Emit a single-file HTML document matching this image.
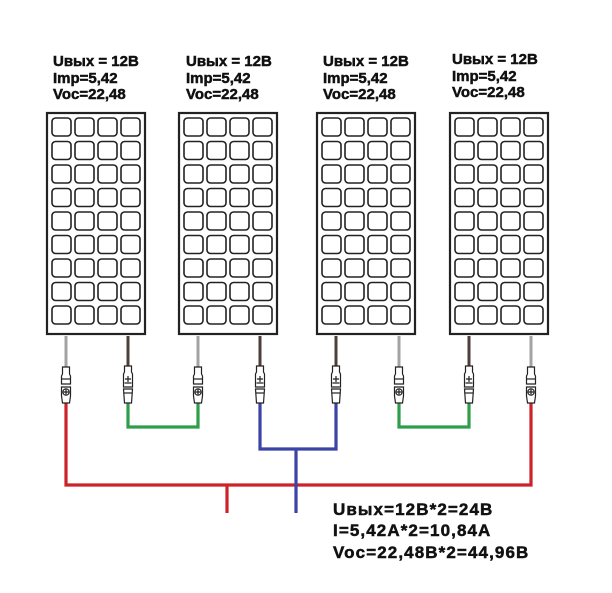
<!DOCTYPE html>
<html>
<head>
<meta charset="utf-8">
<style>
html,body{margin:0;padding:0;background:#fff;}
svg{display:block;}
.t{font-family:"Liberation Sans",Arial,sans-serif;font-weight:bold;fill:#111;stroke:#111;stroke-width:0.5;}
</style>
</head>
<body>
<svg width="612" height="593" viewBox="0 0 612 593" xmlns="http://www.w3.org/2000/svg">
<defs>
  <g id="cells" fill="none" stroke="#222" stroke-width="1.6">
    <rect x="6" y="6" width="19" height="18" rx="3.5"/>
    <rect x="29" y="6" width="19" height="18" rx="3.5"/>
    <rect x="52" y="6" width="19" height="18" rx="3.5"/>
    <rect x="75" y="6" width="19" height="18" rx="3.5"/>
  </g>
  <g id="panel">
    <rect x="1" y="1" width="98" height="221" fill="#fff" stroke="#222" stroke-width="2.2"/>
    <use href="#cells" y="0"/>
    <use href="#cells" y="23.5"/>
    <use href="#cells" y="47"/>
    <use href="#cells" y="70.5"/>
    <use href="#cells" y="94"/>
    <use href="#cells" y="117.5"/>
    <use href="#cells" y="141"/>
    <use href="#cells" y="164.5"/>
    <use href="#cells" y="188"/>
  </g>
  <g id="connA" fill="#fff" stroke="#222" stroke-width="1.2">
    <path d="M-3.5,367 H3.5 V374 L4.5,376 V384 H-4.5 V376 L-3.5,374 Z"/>
    <path d="M-4.5,379 H4.5" fill="none"/>
    <path d="M-4.5,387 H4.5 V396 L3.5,403 H-3.5 L-4.5,396 Z"/>
    <circle cx="0" cy="392" r="3.2"/>
    <path d="M-2.5,392 H2.5 M0,389.5 V394.5" fill="none"/>
  </g>
  <g id="connB" fill="#fff" stroke="#222" stroke-width="1.2">
    <path d="M-3.5,366 H3.5 V372 L4.5,374 V387 H-4.5 V374 L-3.5,372 Z"/>
    <path d="M-3,379 H3 M0,376 V382 M-3.5,383 H3.5" fill="none"/>
    <path d="M-4.5,389 H4.5 L3.5,403 H-3.5 Z"/>
    <path d="M-4.5,393 H4.5" fill="none"/>
  </g>
</defs>

<g class="t" font-size="15">
  <text x="53" y="66">Uвых = 12В</text>
  <text x="53" y="83">Imp=5,42</text>
  <text x="53" y="99">Voc=22,48</text>

  <text x="186" y="66">Uвых = 12В</text>
  <text x="186" y="83">Imp=5,42</text>
  <text x="186" y="99">Voc=22,48</text>

  <text x="323" y="66">Uвых = 12В</text>
  <text x="323" y="83">Imp=5,42</text>
  <text x="323" y="99">Voc=22,48</text>

  <text x="452" y="64">Uвых = 12В</text>
  <text x="452" y="81">Imp=5,42</text>
  <text x="452" y="97">Voc=22,48</text>
</g>

<use href="#panel" x="46" y="112"/>
<use href="#panel" x="178" y="112"/>
<use href="#panel" x="316" y="112"/>
<use href="#panel" x="449" y="112"/>

<g stroke-width="3" fill="none">
  <path d="M66,336 V367" stroke="#a3a3a3"/>
  <path d="M128,336 V366" stroke="#4e3f3c"/>
  <path d="M198,336 V367" stroke="#a3a3a3"/>
  <path d="M260,336 V366" stroke="#4e3f3c"/>
  <path d="M336,336 V366" stroke="#4e3f3c"/>
  <path d="M399,336 V367" stroke="#a3a3a3"/>
  <path d="M469,336 V366" stroke="#4e3f3c"/>
  <path d="M531,336 V367" stroke="#a3a3a3"/>
</g>

<g stroke-width="3.2" fill="none" stroke-linejoin="miter">
  <path d="M128,402 V427 H198 V402" stroke="#2f9e4b"/>
  <path d="M399,402 V427 H469 V402" stroke="#2f9e4b"/>
  <path d="M260,402 V449 H336 V402" stroke="#3b44a6"/>
  <path d="M66,402 V485 H531 V402" stroke="#cc232b"/>
  <path d="M227,485 V513" stroke="#cc232b"/>
  <path d="M296,449 V513" stroke="#3b44a6"/>
</g>

<use href="#connA" x="66" y="0"/>
<use href="#connB" x="128" y="0"/>
<use href="#connA" x="198" y="0"/>
<use href="#connB" x="260" y="0"/>
<use href="#connB" x="336" y="0"/>
<use href="#connA" x="399" y="0"/>
<use href="#connB" x="469" y="0"/>
<use href="#connA" x="531" y="0"/>

<g class="t" font-size="17" letter-spacing="1.1">
  <text x="333" y="515">Uвых=12В*2=24В</text>
  <text x="333" y="536">I=5,42A*2=10,84A</text>
  <text x="333" y="558">Voc=22,48В*2=44,96В</text>
</g>
</svg>
</body>
</html>
